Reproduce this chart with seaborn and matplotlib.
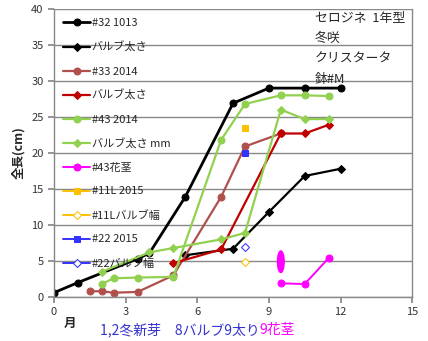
import matplotlib
matplotlib.use("Agg")
import matplotlib.pyplot as plt
from matplotlib.patches import Ellipse
import seaborn as sns
import pandas as pd

sns.set_theme(style="white")
plt.rcParams['font.family'] = ['Noto Sans CJK JP', 'DejaVu Sans']

# Months (x) and lengths in cm (y) for each plant record
x32 = [0, 1, 3.5, 4, 5.5, 7.5, 9, 10.5, 12]
y32 = [0.6, 2, 5.3, 6.1, 13.9, 26.9, 29, 29, 29]
x32b = [5.5, 7.5, 9, 10.5, 12]
y32b = [5.8, 6.7, 11.8, 16.8, 17.8]

x33 = [1.5, 2, 2.5, 3.5, 5, 7, 8, 9.5]
y33 = [0.8, 0.8, 0.6, 0.7, 3.0, 13.9, 20.9, 22.7]
x33b = [5, 7, 9.5, 10.5, 11.5]
y33b = [4.7, 6.6, 22.7, 22.7, 23.9]

x43 = [2, 2.5, 3.5, 5, 7, 8, 9.5, 10.5, 11.5]
y43 = [1.8, 2.6, 2.7, 2.8, 21.8, 26.8, 28, 28, 27.9]
x43b = [2, 4, 5, 7, 8, 9.5, 10.5, 11.5]
y43b = [3.5, 6.2, 6.8, 8.0, 8.9, 26, 24.7, 24.7]

x43s = [9.5, 10.5, 11.5]
y43s = [1.9, 1.8, 5.4]

x11 = [8]
y11 = [23.5]
x11b = [8]
y11b = [4.8]
x22 = [8]
y22 = [20]
x22b = [8]
y22b = [6.9]

labels = ["#32 1013", "バルブ太さ", "#33 2014", "バルブ太さ", "#43 2014",
          "バルブ太さ mm", "#43花茎", "#11L 2015", "#11Lバルブ幅", "#22 2015", "#22バルブ幅"]

series = [
    (x32, y32, dict(color="#000000", marker="o", lw=2.0, ms=5)),
    (x32b, y32b, dict(color="#000000", marker="D", lw=1.6, ms=4)),
    (x33, y33, dict(color="#b0504c", marker="o", lw=1.6, ms=5)),
    (x33b, y33b, dict(color="#c00000", marker="D", lw=1.6, ms=4)),
    (x43, y43, dict(color="#92d050", marker="o", lw=1.6, ms=5)),
    (x43b, y43b, dict(color="#92d050", marker="D", lw=1.6, ms=4)),
    (x43s, y43s, dict(color="#ff00ff", marker="o", lw=1.4, ms=5)),
    (x11, y11, dict(color="#ffc000", marker="s", lw=1.4, ms=5)),
    (x11b, y11b, dict(color="#ffc000", marker="D", lw=1.4, ms=4, mfc="white")),
    (x22, y22, dict(color="#3333ff", marker="s", lw=1.4, ms=5)),
    (x22b, y22b, dict(color="#3333ff", marker="D", lw=1.4, ms=4, mfc="white")),
]

fig = plt.figure(figsize=(4.28, 3.41), dpi=100)
ax = fig.add_axes([0.126, 0.129, 0.837, 0.845])

for (xs, ys, st), lab in zip(series, labels):
    df = pd.DataFrame({"x": xs, "y": ys})
    sns.lineplot(data=df, x="x", y="y", ax=ax, sort=False, label=lab,
                 markeredgecolor=st["color"], linestyle="-", **st)

# flower spike bud outline
ax.add_patch(Ellipse((9.5, 4.9), 0.28, 3.0, color="#ff00ff", zorder=5))

ax.set_xlim(0, 15)
ax.set_ylim(0, 40)
ax.set_xticks(range(0, 16, 3))
ax.set_yticks(range(0, 41, 5))
ax.yaxis.grid(True, color="#888888", lw=1)
ax.xaxis.grid(False)
for s in ax.spines.values():
    s.set_color("#888888")
    s.set_linewidth(1)
ax.spines["top"].set_visible(False)
ax.tick_params(axis="both", labelsize=8, colors="#333333", length=4,
               direction="out", left=True, bottom=True, color="#888888")
ax.set_xlabel("")
ax.set_ylabel("全長(cm)", fontsize=9, fontweight="bold")

leg = ax.legend(loc="upper left", bbox_to_anchor=(0.0, 1.0), frameon=False,
                fontsize=8, handlelength=2.4, handletextpad=0.15,
                labelspacing=1.22, borderaxespad=0.45)

ax.text(0.728, 0.99, "セロジネ  1年型\n冬咲\nクリスタータ\n鉢#M", transform=ax.transAxes,
        ha="left", va="top", fontsize=9.3, linespacing=1.75)

fig.text(70 / 428, 1 - 323 / 341, "月", ha="center", va="center", fontsize=9,
         fontweight="bold")
blue = fig.text(100 / 428, 1 - 330 / 341, "1,2冬新芽　8バルブ9太り", ha="left",
                va="center", fontsize=10, color="#3333cc")
fig.canvas.draw()
bb = blue.get_window_extent()
fig.text(bb.x1 / fig.bbox.width, 1 - 330 / 341, "9花茎", ha="left", va="center",
         fontsize=10, color="#ff00ff")

fig.savefig("out.png", dpi=100)
